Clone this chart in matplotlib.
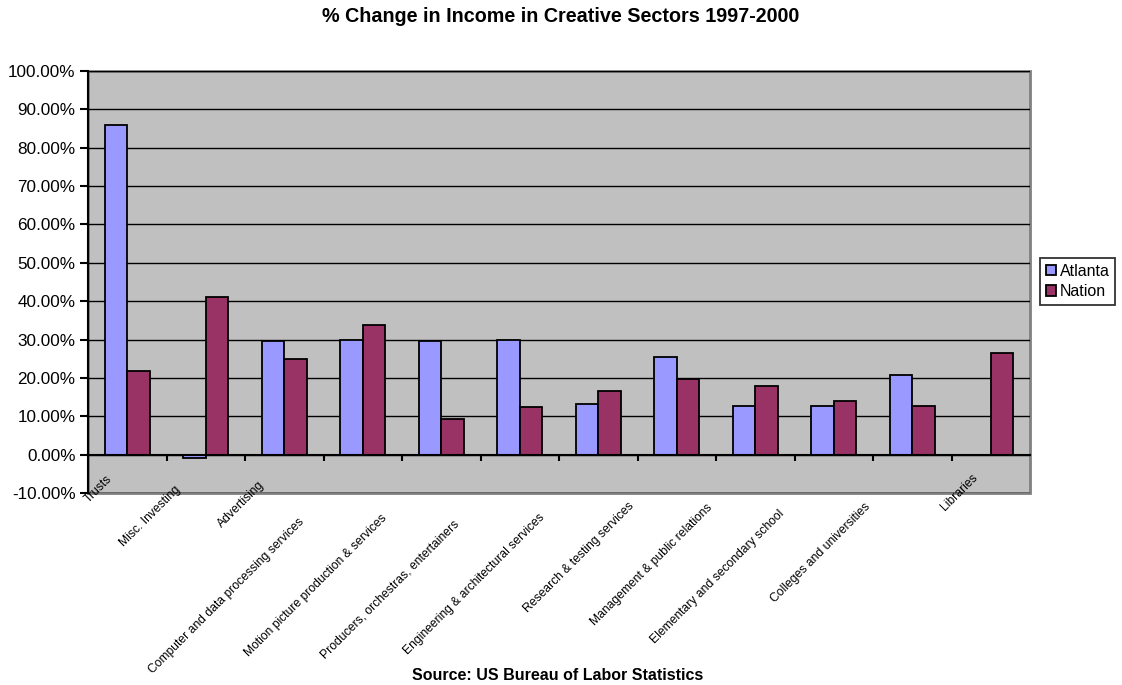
import numpy as np
import matplotlib
matplotlib.use('Agg')
import matplotlib.pyplot as plt
from matplotlib.patches import Rectangle

plt.rcParams['font.family'] = ['Liberation Sans', 'DejaVu Sans']

# data
sectors = ['Trusts', 'Misc. Investing', 'Advertising',
           'Computer and data processing services',
           'Motion picture production & services',
           'Producers, orchestras, entertainers',
           'Engineering & architectural services',
           'Research & testing services',
           'Management & public relations',
           'Elementary and secondary school',
           'Colleges and universities', 'Libraries']
atlanta = [86.0, -1.0, 29.5, 30.0, 29.5, 30.0, 13.3, 25.4, 12.8, 12.8, 20.8, 0.0]
nation = [21.7, 41.0, 25.0, 33.7, 9.2, 12.3, 16.5, 19.7, 18.0, 14.0, 12.8, 26.4]

# label shift (pixels) along the text direction, like Excel places them
label_shift = [17, 27, 22, 60, 56, 62, 55, 44, 45, 51, 44, 15]

fig = plt.figure(figsize=(11.22, 6.85), dpi=100)
ax = fig.add_axes([88/1122, 1-493/685, 942/1122, 422/685])
ax.set_facecolor('#C0C0C0')

x = np.arange(len(sectors))
w = 1/3.5
ax.bar(x - w/2, atlanta, w, color='#9999FF', edgecolor='black', linewidth=1.3,
       label='Atlanta', zorder=3)
ax.bar(x + w/2, nation, w, color='#993366', edgecolor='black', linewidth=1.3,
       label='Nation', zorder=3)

ax.set_xlim(-0.5, len(sectors) - 0.5)
ax.set_ylim(-10, 100)
ax.set_yticks(np.arange(-10, 101, 10))
ax.set_yticklabels(['%.2f%%' % v for v in np.arange(-10, 101, 10)], fontsize=12.3)
ax.yaxis.grid(True, color='black', linewidth=1, zorder=1)
ax.tick_params(axis='y', direction='out', length=6, width=1.5, pad=3)

# category axis crosses at 0
for s in ['top', 'right']:
    ax.spines[s].set_visible(False)
ax.spines['left'].set_linewidth(1.5)
ax.spines['bottom'].set_position(('data', 0))
ax.spines['bottom'].set_linewidth(1.5)
ax.spines['bottom'].set_zorder(4)
ax.set_xticks(np.arange(0.5, len(sectors) - 0.5, 1))
ax.set_xticklabels([])
ax.tick_params(axis='x', direction='out', length=4, width=1.5)
ax.add_patch(Rectangle((0, 0), 1, 1, transform=ax.transAxes, fill=False,
                       edgecolor='#808080', linewidth=2, clip_on=False, zorder=0))

for i, name in enumerate(sectors):
    s = label_shift[i]
    ax.annotate(name, xy=(i, 0), xycoords='data',
                xytext=(-s, -(6 + s)), textcoords='offset pixels',
                rotation=45, rotation_mode='anchor', ha='right', va='center',
                fontsize=8.7, annotation_clip=False)

leg = ax.legend(loc='upper left', bbox_to_anchor=(1040/1122, 1-258/685),
                bbox_transform=fig.transFigure, frameon=True, fancybox=False,
                edgecolor='black', fontsize=11.5, handlelength=0.65, handleheight=0.65,
                handletextpad=0.25, borderpad=0.35, labelspacing=0.35, borderaxespad=0)
leg.get_frame().set_linewidth(1.3)

fig.text(0.5, 1-17/685, '% Change in Income in Creative Sectors 1997-2000',
         ha='center', va='center', fontsize=14.2, fontweight='bold')
fig.text(558/1122, 1-676/685, 'Source: US Bureau of Labor Statistics',
         ha='center', va='center', fontsize=11.5, fontweight='bold')

fig.savefig('out.png', dpi=100)
